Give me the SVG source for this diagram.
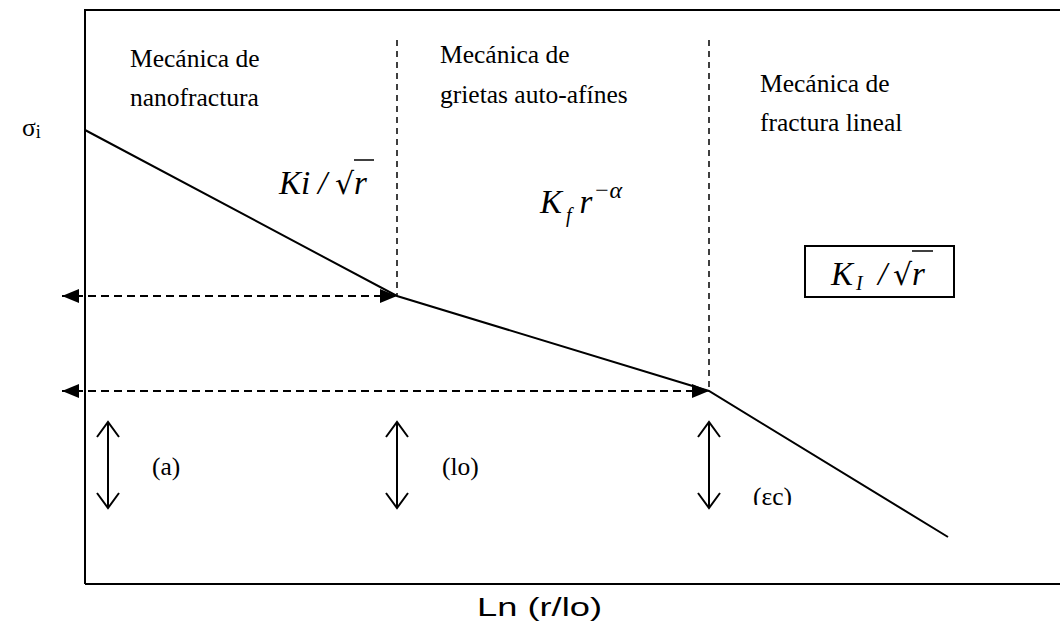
<svg xmlns="http://www.w3.org/2000/svg" width="1060" height="622" viewBox="0 0 1060 622">
<style>
.t{font-family:"Liberation Serif",serif;font-size:25.5px;fill:#000}
.m{font-family:"Liberation Serif",serif;font-size:33px;font-style:italic;fill:#000}
.rad{font-family:"DejaVu Serif","Liberation Serif",serif;font-size:30px;fill:#000}
.s{stroke:#000;stroke-width:2;fill:none}
.d{stroke:#000;stroke-width:2;fill:none;stroke-dasharray:8 5}
.v{stroke:#000;stroke-width:1.5;fill:none;stroke-dasharray:6 5}
.a{stroke:#000;stroke-width:2;fill:none}
</style>
<defs>
<marker id="tri" viewBox="0 0 17 14" refX="17" refY="7" markerWidth="17" markerHeight="14" markerUnits="userSpaceOnUse" orient="auto-start-reverse">
<path d="M0,0 L17,7 L0,14 z" fill="#000"/>
</marker>
<clipPath id="cut"><rect x="740" y="470" width="80" height="35"/></clipPath>
</defs>
<rect x="0" y="0" width="1060" height="622" fill="#fff"/>
<g id="frame">
<path class="s" d="M85,584 L85,10 L1062,10 M85,584 L1062,584"/>
</g>
<g id="labels">
<text class="t" x="22" y="136" font-size="31">σ<tspan font-size="18" dy="2">i</tspan></text>
<text x="477" y="616" font-family="Liberation Sans,sans-serif" font-size="25" textLength="125" lengthAdjust="spacingAndGlyphs">Ln (r/lo)</text>
<text class="t" x="130" y="67">Mecánica de</text>
<text class="t" x="130" y="106">nanofractura</text>
<text class="t" x="440" y="63">Mecánica de</text>
<text class="t" x="440" y="103">grietas auto-afínes</text>
<text class="t" x="760" y="92">Mecánica de</text>
<text class="t" x="760" y="131">fractura lineal</text>
<text class="t" x="152" y="475">(a)</text>
<text class="t" x="442" y="475">(lo)</text>
<text class="t" x="753" y="505" clip-path="url(#cut)">(εc)</text>
</g>
<g id="formula1">
<text class="m" x="279" y="194">Ki</text>
<text class="m" x="318" y="194" font-style="normal" font-size="28">/</text>
<text class="rad" x="335" y="194" font-size="34">√</text>
<line x1="354" y1="160" x2="374" y2="160" stroke="#000" stroke-width="1.5"/>
<text class="m" x="354" y="194">r</text>
</g>
<g id="formula2">
<text class="m" x="540" y="213">K<tspan font-size="20" dy="9" dx="4">f</tspan><tspan dy="-9" dx="8">r</tspan><tspan font-size="24" dy="-15" dx="1">−α</tspan></text>
</g>
<g id="formulaBox">
<rect x="805" y="246" width="149" height="51" fill="none" stroke="#000" stroke-width="2"/>
<text class="m" x="831" y="285">K<tspan font-size="20" dy="5" dx="3">I</tspan></text>
<text class="m" x="878" y="285" font-style="normal" font-size="28">/</text>
<text class="rad" x="893" y="285" font-size="34">√</text>
<line x1="912" y1="251" x2="933" y2="251" stroke="#000" stroke-width="1.5"/>
<text class="m" x="912" y="285">r</text>
</g>
<g id="connectors">
<polyline class="s" points="85,130 397,296 709,391 948,537"/>
<line class="v" x1="397" y1="40" x2="397" y2="296"/>
<line class="v" x1="709" y1="40" x2="709" y2="391"/>
<line class="d" x1="62" y1="296" x2="397" y2="296" marker-start="url(#tri)" marker-end="url(#tri)"/>
<line class="d" x1="62" y1="391" x2="709" y2="391" marker-start="url(#tri)" marker-end="url(#tri)"/>
<path class="a" d="M108,422 L108,508 M97,437 L108,422 L119,437 M97,493 L108,508 L119,493"/>
<path class="a" d="M397,422 L397,508 M386,437 L397,422 L408,437 M386,493 L397,508 L408,493"/>
<path class="a" d="M709,422 L709,508 M698,437 L709,422 L720,437 M698,493 L709,508 L720,493"/>
</g>
</svg>
